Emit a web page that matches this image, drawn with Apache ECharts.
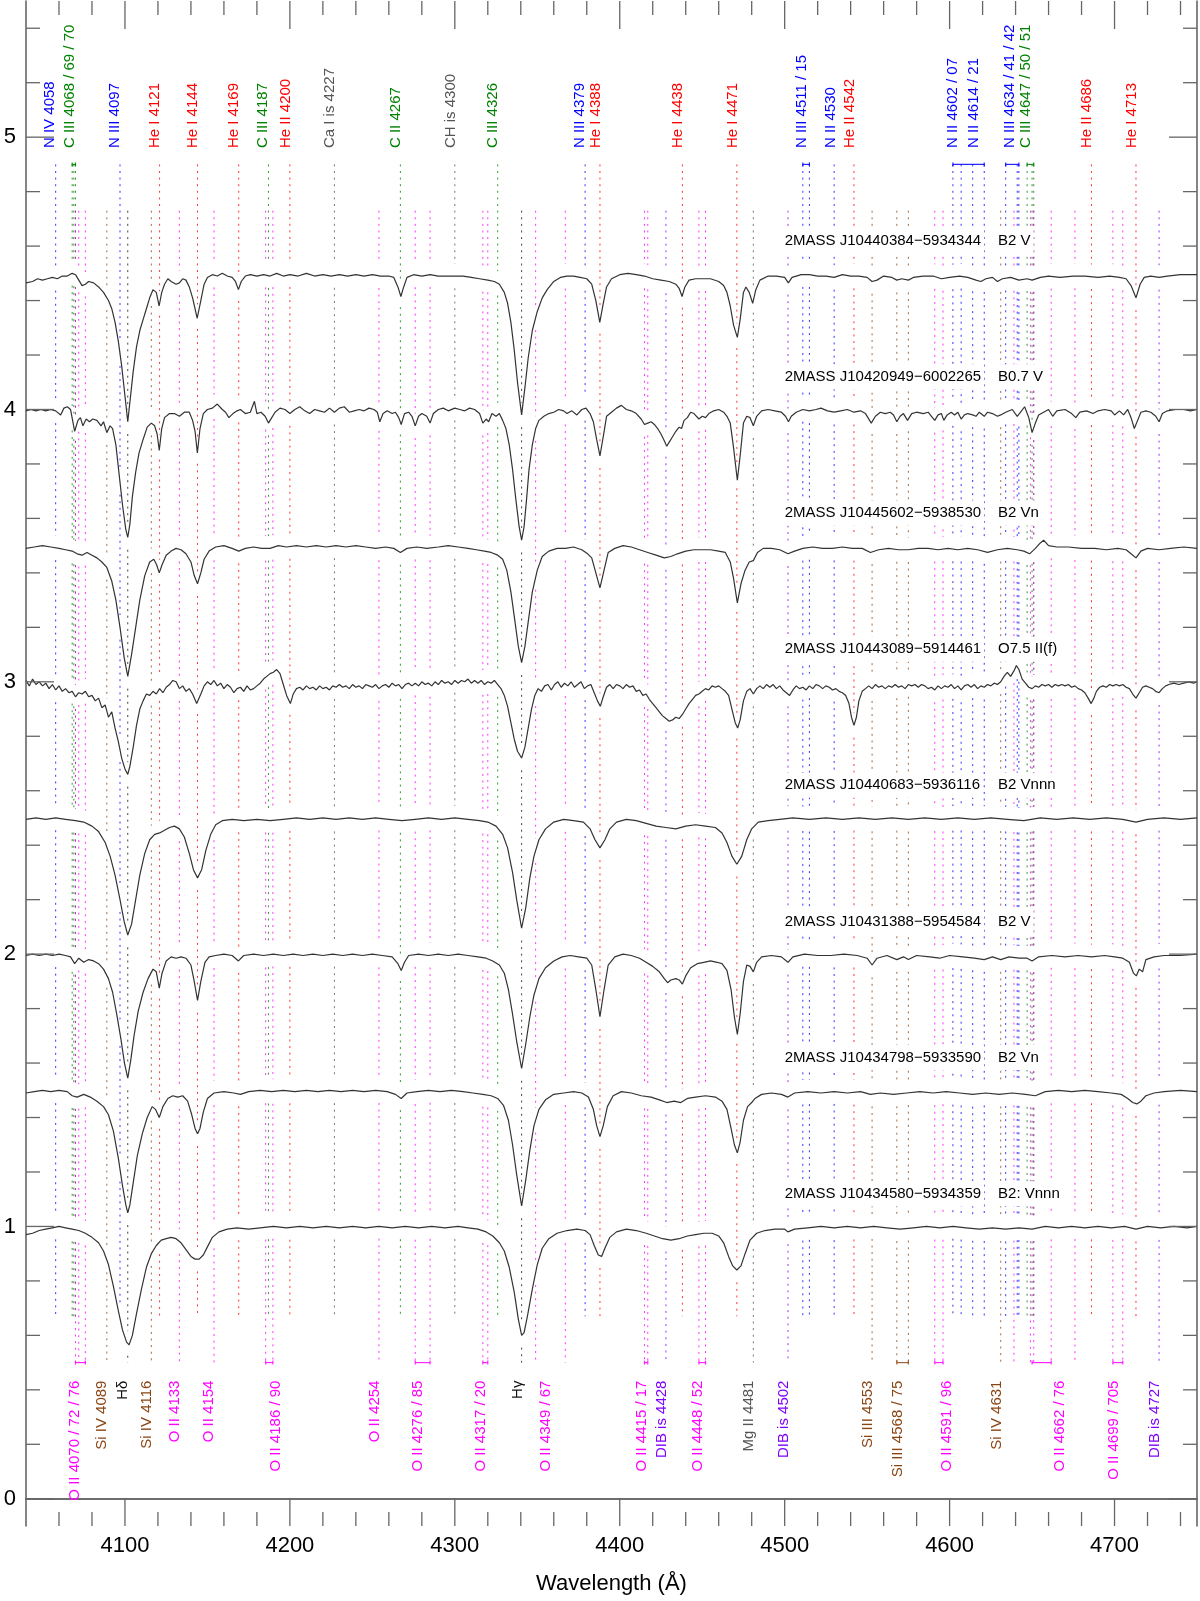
<!DOCTYPE html>
<html>
<head>
<meta charset="utf-8">
<script src="https://cdn.jsdelivr.net/npm/echarts@6/dist/echarts.min.js"></script>
<style>
  html, body { margin: 0; padding: 0; background: #fff; }
  #chart { width: 1200px; height: 1601px; }
</style>
</head>
<body>
<div id="chart"></div>
<script>
const WAVE_MIN = 4040, WAVE_MAX = 4750;
const FLUX_MIN = -0.1, FLUX_MAX = 5.5;

// continuum level of each spectrum, top to bottom
const levels = [4.5, 4.0, 3.5, 3.0, 2.5, 2.0, 1.5, 1.0];
const starNames = [
  '2MASS J10440384\u22125934344', '2MASS J10420949\u22126002265',
  '2MASS J10445602\u22125938530', '2MASS J10443089\u22125914461',
  '2MASS J10440683\u22125936116', '2MASS J10431388\u22125954584',
  '2MASS J10434798\u22125933590', '2MASS J10434580\u22125934359'
];
const spTypes = ['B2 V', 'B0.7 V', 'B2 Vn', 'O7.5 II(f)', 'B2 Vnnn', 'B2 V', 'B2 Vn', 'B2: Vnnn'];

// spectra, [wavelength, offset flux]
const spec1 = [[4040,4.465],[4044,4.47],[4047,4.48],[4050,4.475],[4053,4.48],[4056,4.485],[4059,4.48],[4062,4.49],[4065,4.49],[4068,4.5],[4070,4.495],[4072,4.475],[4074,4.455],[4076,4.46],[4078,4.47],[4081,4.465],[4084,4.45],[4087,4.43],[4090,4.40],[4092,4.37],[4094,4.32],[4096,4.25],[4098,4.16],[4100,4.05],[4101.7,3.955],[4103.4,4.05],[4105,4.14],[4107,4.23],[4109,4.29],[4111,4.33],[4113,4.37],[4115,4.41],[4117,4.44],[4119,4.43],[4120.7,4.38],[4122.3,4.43],[4124,4.46],[4126,4.48],[4128,4.47],[4131,4.46],[4133,4.465],[4135,4.48],[4137,4.475],[4139,4.45],[4141,4.41],[4143.8,4.335],[4146,4.40],[4148,4.46],[4150,4.485],[4153,4.495],[4156,4.49],[4159,4.5],[4162,4.49],[4165,4.485],[4167,4.47],[4168.8,4.44],[4170.5,4.47],[4173,4.49],[4176,4.495],[4180,4.49],[4184,4.495],[4188,4.49],[4192,4.5],[4196,4.49],[4200,4.495],[4205,4.49],[4210,4.5],[4215,4.49],[4220,4.495],[4225,4.49],[4230,4.495],[4235,4.49],[4240,4.495],[4245,4.49],[4250,4.495],[4255,4.49],[4260,4.49],[4263,4.485],[4265.5,4.45],[4267.3,4.415],[4269,4.45],[4271,4.485],[4275,4.495],[4280,4.49],[4285,4.495],[4290,4.49],[4295,4.49],[4300,4.49],[4305,4.49],[4310,4.485],[4315,4.48],[4320,4.475],[4324,4.47],[4327,4.46],[4330,4.43],[4332,4.39],[4334,4.32],[4336,4.22],[4338,4.10],[4340.5,3.98],[4342.5,4.08],[4344.5,4.19],[4347,4.29],[4350,4.36],[4353,4.41],[4356,4.44],[4360,4.47],[4364,4.485],[4368,4.49],[4372,4.49],[4376,4.485],[4380,4.48],[4383,4.46],[4385.5,4.40],[4387.9,4.32],[4390,4.39],[4392,4.45],[4395,4.48],[4400,4.495],[4405,4.5],[4410,4.495],[4415,4.49],[4420,4.48],[4425,4.475],[4430,4.47],[4434,4.46],[4436,4.445],[4437.8,4.415],[4439.5,4.45],[4442,4.475],[4446,4.48],[4450,4.48],[4455,4.48],[4460,4.47],[4463,4.455],[4465,4.43],[4467,4.38],[4469,4.31],[4471.3,4.265],[4473,4.33],[4475,4.43],[4476.5,4.45],[4478.5,4.43],[4480.6,4.39],[4482.5,4.44],[4485,4.475],[4490,4.49],[4495,4.49],[4500,4.485],[4502.2,4.465],[4504.5,4.485],[4510,4.495],[4515,4.495],[4520,4.49],[4525,4.49],[4530,4.485],[4535,4.495],[4540,4.49],[4545,4.49],[4550,4.485],[4553,4.47],[4556,4.475],[4560,4.49],[4565,4.485],[4568,4.475],[4571,4.48],[4575,4.475],[4578,4.485],[4584,4.49],[4590,4.49],[4595,4.48],[4600,4.485],[4606,4.49],[4611,4.485],[4616,4.475],[4619,4.47],[4622,4.48],[4626,4.485],[4629,4.47],[4632,4.48],[4637,4.485],[4642,4.475],[4647,4.48],[4650,4.475],[4655,4.485],[4660,4.49],[4667,4.485],[4675,4.49],[4682,4.49],[4690,4.485],[4697,4.49],[4703,4.485],[4707,4.48],[4710,4.455],[4713,4.41],[4715.5,4.46],[4718,4.485],[4722,4.49],[4727,4.485],[4732,4.49],[4740,4.495],[4750,4.495]];

const spec2 = [[4040,3.995],[4043,4.0],[4046,3.995],[4049,4.0],[4052,3.995],[4055,4.0],[4058,3.995],[4061,3.98],[4063,4.005],[4065,4.01],[4067,4.0],[4069.5,3.92],[4071.5,3.96],[4073,3.97],[4074.5,3.94],[4076.5,3.965],[4078.5,3.955],[4080.5,3.965],[4083,3.96],[4085.5,3.94],[4087,3.955],[4089,3.915],[4091,3.94],[4092.5,3.93],[4094.5,3.87],[4096.5,3.76],[4098.5,3.65],[4100.5,3.56],[4101.7,3.53],[4103,3.58],[4104.5,3.68],[4106.5,3.77],[4108.5,3.84],[4111,3.89],[4113.5,3.935],[4116,3.95],[4118,3.94],[4119.5,3.91],[4120.8,3.85],[4122.3,3.93],[4124,3.97],[4127,3.985],[4130,3.985],[4133,3.975],[4136,3.99],[4139,3.99],[4141,3.96],[4142.5,3.92],[4143.9,3.84],[4145.5,3.93],[4147.5,3.985],[4150,4.0],[4153,4.005],[4156,4.02],[4159,4.0],[4161,3.99],[4163,3.97],[4165.5,3.985],[4168,3.995],[4170,4.0],[4173,3.985],[4176,3.99],[4178.5,4.03],[4180,3.985],[4182.5,3.99],[4185,3.975],[4187,3.95],[4189,3.97],[4191,3.99],[4194,4.005],[4197,4.0],[4200,3.985],[4203,4.0],[4206,4.01],[4209,3.995],[4212,3.985],[4215,4.0],[4218,3.995],[4221,3.99],[4224,4.005],[4227,3.99],[4230,4.005],[4233,4.01],[4236,3.99],[4239,3.995],[4242,4.0],[4245,3.995],[4248,4.005],[4251,4.0],[4253,3.99],[4254.5,3.955],[4256.5,3.985],[4259,3.995],[4262,3.985],[4264,3.99],[4266,3.97],[4267.5,3.945],[4269.5,3.985],[4272,3.99],[4274,3.975],[4276,3.94],[4278,3.975],[4280,3.985],[4283,3.975],[4285,3.95],[4287,3.985],[4290,4.0],[4293,4.005],[4296,3.995],[4300,4.005],[4303,4.0],[4306,3.995],[4309,4.005],[4312,4.0],[4315,3.985],[4317,3.95],[4319,3.965],[4320.5,3.955],[4322.5,3.985],[4325,3.975],[4327,3.985],[4329,3.96],[4331,3.93],[4333,3.87],[4335,3.78],[4337,3.67],[4339,3.57],[4340.5,3.52],[4342,3.57],[4343.5,3.67],[4345,3.78],[4347,3.87],[4349,3.93],[4351,3.96],[4354,3.975],[4357,3.985],[4360,3.99],[4363,4.0],[4366,3.995],[4368,3.985],[4371,3.995],[4374,3.98],[4377,4.0],[4379.5,4.005],[4382,3.985],[4384,3.955],[4386,3.89],[4388,3.83],[4390,3.9],[4392,3.975],[4395,3.99],[4398,4.005],[4401,4.015],[4404,4.0],[4407,3.995],[4410,3.985],[4413,3.965],[4415,3.945],[4417,3.95],[4419,3.955],[4421,3.945],[4423,3.93],[4425,3.91],[4427,3.885],[4428.5,3.865],[4430,3.88],[4432,3.9],[4434,3.92],[4436,3.935],[4437.5,3.93],[4439,3.96],[4441,3.97],[4443,3.99],[4445,3.985],[4448,3.965],[4450,3.975],[4452,3.97],[4454,3.985],[4457,3.995],[4460,4.0],[4463,3.99],[4465,3.975],[4467,3.95],[4469,3.86],[4471.3,3.74],[4473,3.83],[4475,3.95],[4477,3.975],[4479,3.97],[4481,3.94],[4483,3.975],[4486,3.995],[4490,4.0],[4494,3.995],[4498,3.99],[4500.5,3.975],[4502.3,3.955],[4504,3.975],[4507,3.99],[4511,4.0],[4515,3.995],[4519,4.0],[4522,4.005],[4526,3.995],[4530,3.99],[4534,3.995],[4538,4.0],[4542,3.99],[4546,3.995],[4549,3.985],[4552.5,3.95],[4555,3.975],[4558,3.99],[4561,3.985],[4564,3.99],[4566,3.98],[4568,3.955],[4570,3.975],[4572,3.985],[4574.5,3.96],[4577,3.985],[4580,3.99],[4584,3.985],[4587,3.99],[4589,3.975],[4591,3.96],[4593,3.98],[4595,3.985],[4596.5,3.96],[4598.5,3.98],[4601,3.99],[4603,3.98],[4605,3.99],[4607,3.965],[4609,3.98],[4611,3.985],[4614,3.98],[4616,3.975],[4618,3.99],[4621,3.975],[4623,3.99],[4626,3.985],[4629,3.975],[4631,3.98],[4634,3.99],[4638,4.0],[4641,3.975],[4643,3.99],[4645.5,4.01],[4648,3.97],[4650,3.915],[4652,3.95],[4654,3.98],[4657,3.99],[4660,4.0],[4662.5,3.975],[4665,3.995],[4670,4.0],[4674,3.985],[4676.5,3.97],[4679,3.99],[4683,3.995],[4687,3.985],[4690,3.995],[4694,4.0],[4698,3.995],[4700,3.98],[4703,3.995],[4705.5,3.98],[4708,4.0],[4710,3.97],[4712,3.93],[4714,3.96],[4716,3.99],[4719,3.995],[4722,3.99],[4725,3.975],[4727,3.955],[4729,3.985],[4732,3.995],[4737,4.0],[4742,4.0],[4746,3.995],[4750,4.0]];

const spec3 = [[4040,3.49],[4045,3.495],[4050,3.5],[4055,3.495],[4060,3.49],[4064,3.485],[4068,3.48],[4071,3.47],[4074,3.465],[4077,3.475],[4080,3.465],[4083,3.455],[4086,3.44],[4089,3.42],[4092,3.37],[4094.5,3.30],[4097,3.20],[4099.5,3.09],[4101.7,3.02],[4104,3.10],[4106.5,3.2],[4109,3.3],[4112,3.39],[4115,3.44],[4117.5,3.45],[4119.2,3.43],[4120.8,3.40],[4122.5,3.43],[4125,3.465],[4128,3.48],[4131,3.49],[4134,3.485],[4137,3.47],[4140,3.44],[4142,3.39],[4144,3.36],[4146,3.40],[4148,3.45],[4151,3.48],[4155,3.495],[4160,3.5],[4165,3.49],[4169,3.48],[4173,3.49],[4178,3.495],[4183,3.49],[4188,3.49],[4193,3.5],[4198,3.495],[4204,3.5],[4210,3.495],[4216,3.5],[4222,3.495],[4228,3.5],[4234,3.495],[4240,3.5],[4246,3.495],[4252,3.49],[4258,3.495],[4263,3.49],[4267,3.475],[4271,3.49],[4277,3.495],[4283,3.49],[4290,3.495],[4296,3.5],[4302,3.495],[4308,3.49],[4313,3.485],[4318,3.48],[4322,3.475],[4326,3.465],[4329,3.45],[4331.5,3.41],[4334,3.33],[4336.5,3.22],[4338.5,3.13],[4340.5,3.07],[4342.5,3.13],[4344.5,3.22],[4347,3.33],[4350,3.41],[4353,3.46],[4357,3.48],[4362,3.49],[4367,3.49],[4372,3.495],[4377,3.485],[4380.5,3.47],[4383,3.455],[4385.5,3.40],[4388,3.345],[4390.5,3.41],[4393,3.475],[4397,3.49],[4402,3.5],[4407,3.495],[4412,3.485],[4417,3.475],[4422,3.465],[4427,3.455],[4431,3.46],[4435,3.47],[4440,3.48],[4445,3.485],[4450,3.485],[4455,3.485],[4460,3.48],[4464,3.475],[4467,3.44],[4469,3.38],[4471.3,3.29],[4473.5,3.36],[4476,3.41],[4478.5,3.44],[4481,3.445],[4483.5,3.475],[4487,3.49],[4492,3.49],[4497,3.485],[4502,3.47],[4506,3.48],[4511,3.49],[4517,3.495],[4523,3.49],[4529,3.49],[4535,3.495],[4541,3.49],[4547,3.49],[4552,3.475],[4557,3.485],[4563,3.49],[4569,3.485],[4575,3.485],[4581,3.49],[4587,3.49],[4593,3.485],[4599,3.49],[4605,3.485],[4611,3.49],[4617,3.485],[4623,3.475],[4629,3.485],[4635,3.49],[4641,3.485],[4645,3.48],[4648.5,3.47],[4652,3.49],[4655,3.51],[4657,3.52],[4660,3.5],[4665,3.495],[4672,3.495],[4680,3.49],[4688,3.49],[4695,3.485],[4702,3.49],[4707,3.485],[4710,3.47],[4713,3.455],[4716,3.48],[4720,3.49],[4727,3.485],[4734,3.49],[4742,3.495],[4750,3.49]];

const spec4 = [[4040,3.005],[4042,2.985],[4044,3.01],[4046,2.99],[4048,3.0],[4050,2.985],[4052,2.995],[4054,2.975],[4056,2.99],[4058,2.97],[4060,2.985],[4062,2.965],[4064,2.975],[4066,2.96],[4068,2.965],[4070,2.945],[4072,2.96],[4074,2.955],[4076,2.965],[4078,2.945],[4080,2.95],[4082,2.93],[4084,2.94],[4086,2.905],[4088,2.915],[4090,2.87],[4092,2.89],[4094,2.83],[4096,2.78],[4098,2.72],[4100,2.68],[4101.7,2.66],[4103,2.69],[4105,2.76],[4107,2.84],[4109,2.9],[4111,2.93],[4113,2.955],[4115,2.95],[4117,2.965],[4119,2.955],[4121,2.975],[4123,2.96],[4125,2.98],[4127,2.99],[4129,3.005],[4131,3.0],[4133,2.975],[4135,2.985],[4137,2.965],[4139,2.975],[4141,2.955],[4143.5,2.92],[4146,2.955],[4148,2.985],[4150,3.0],[4152,2.99],[4154,3.005],[4156,2.985],[4158,2.995],[4160,2.975],[4162,2.99],[4164,2.98],[4166,2.96],[4168,2.975],[4170,2.98],[4172,2.965],[4174,2.985],[4176,2.97],[4178,2.975],[4180,2.985],[4182,2.995],[4184,3.01],[4186,3.02],[4188,3.03],[4190,3.035],[4192,3.045],[4194,3.03],[4196,2.99],[4198,2.95],[4200.3,2.92],[4202,2.955],[4204,2.975],[4206,2.98],[4208,2.97],[4210,2.985],[4212,2.975],[4214,2.98],[4216,2.97],[4218,2.985],[4220,2.975],[4222,2.98],[4224,2.97],[4226,2.985],[4228,2.98],[4230,2.99],[4232,2.98],[4234,2.985],[4236,2.975],[4238,2.99],[4240,2.98],[4242,2.985],[4244,2.975],[4246,2.99],[4248,2.985],[4250,2.98],[4252,2.99],[4254,2.975],[4256,2.985],[4258,2.99],[4260,2.98],[4262,2.995],[4264,2.985],[4266,2.99],[4268,2.975],[4270,2.99],[4272,2.995],[4274,2.985],[4276,2.995],[4278,2.985],[4280,3.0],[4282,2.99],[4284,2.995],[4286,2.985],[4288,3.0],[4290,2.99],[4292,3.005],[4294,2.995],[4296,3.0],[4298,2.99],[4300,3.005],[4302,2.995],[4304,3.005],[4306,3.0],[4308,3.01],[4310,2.995],[4312,3.005],[4314,2.995],[4316,3.005],[4318,2.99],[4320,3.0],[4322,2.995],[4324,3.005],[4326,2.99],[4328,2.975],[4330,2.95],[4332,2.91],[4334,2.85],[4336,2.79],[4338,2.745],[4340.5,2.72],[4342.5,2.76],[4344.5,2.83],[4346.5,2.9],[4348.5,2.95],[4350.5,2.975],[4352.5,2.965],[4354.5,2.985],[4356.5,2.99],[4358.5,2.97],[4360.5,2.99],[4362.5,3.0],[4364.5,2.98],[4366.5,2.995],[4368.5,2.985],[4370.5,3.0],[4372.5,2.98],[4374.5,2.99],[4376.5,3.0],[4378.5,2.975],[4380.5,2.985],[4382.5,2.99],[4384.5,2.96],[4386.5,2.93],[4388.2,2.91],[4390,2.945],[4392,2.98],[4394,2.99],[4396,2.975],[4398,2.99],[4400,2.985],[4402,2.975],[4404,2.99],[4406,2.98],[4408,2.985],[4410,2.965],[4412,2.97],[4414,2.95],[4416,2.955],[4418,2.935],[4420,2.92],[4422,2.905],[4424,2.89],[4426,2.875],[4428,2.865],[4430,2.855],[4432,2.86],[4434,2.87],[4436,2.865],[4438,2.88],[4440,2.9],[4442,2.92],[4444,2.935],[4446,2.95],[4448,2.955],[4450,2.965],[4452,2.975],[4454,2.97],[4456,2.985],[4458,2.98],[4460,2.985],[4462,2.975],[4464,2.965],[4466,2.95],[4468,2.9],[4470,2.85],[4471.5,2.83],[4473,2.86],[4475,2.93],[4477,2.965],[4479,2.975],[4481,2.955],[4483,2.975],[4485,2.985],[4487,2.975],[4489,2.99],[4491,2.98],[4493,2.99],[4495,2.975],[4497,2.985],[4499,2.97],[4501,2.96],[4503,2.95],[4505,2.97],[4507,2.985],[4509,2.975],[4511,2.98],[4513,2.97],[4515,2.985],[4517,2.975],[4519,2.99],[4521,2.985],[4523,2.975],[4525,2.985],[4527,2.98],[4529,2.97],[4531,2.975],[4533,2.965],[4535,2.96],[4537,2.95],[4539,2.92],[4540.5,2.87],[4542,2.84],[4543.5,2.87],[4545,2.93],[4547,2.965],[4549,2.975],[4551,2.985],[4553,2.975],[4555,2.99],[4557,2.98],[4559,2.985],[4561,2.975],[4563,2.985],[4565,2.98],[4567,2.99],[4569,2.98],[4571,2.985],[4573,2.975],[4575,2.99],[4577,2.985],[4579,2.99],[4581,2.98],[4583,2.99],[4585,2.985],[4587,2.975],[4589,2.98],[4591,2.97],[4593,2.985],[4595,2.975],[4597,2.985],[4599,2.98],[4601,2.99],[4603,2.975],[4605,2.985],[4607,2.97],[4609,2.985],[4611,2.99],[4613,2.98],[4615,2.99],[4617,2.975],[4619,2.985],[4621,2.98],[4623,2.99],[4625,2.985],[4627,2.995],[4629,2.99],[4631,3.0],[4633,3.02],[4635,3.035],[4637,3.02],[4639,3.04],[4640.5,3.06],[4642,3.045],[4644,3.01],[4646,2.995],[4648,2.98],[4650,2.975],[4652,2.985],[4654,2.98],[4656,2.99],[4658,2.985],[4660,2.99],[4662,2.98],[4664,2.99],[4666,2.985],[4668,2.99],[4670,2.985],[4672,2.99],[4674,2.98],[4676,2.985],[4678,2.975],[4680,2.97],[4682,2.96],[4684,2.94],[4685.8,2.92],[4687.5,2.94],[4689,2.965],[4691,2.98],[4693,2.985],[4695,2.98],[4697,2.99],[4699,2.985],[4701,2.99],[4703,2.985],[4705,2.99],[4707,2.98],[4709,2.975],[4711,2.955],[4713,2.94],[4715,2.96],[4717,2.98],[4719,2.985],[4721,2.98],[4723,2.975],[4725,2.965],[4727,2.96],[4729,2.975],[4731,2.985],[4733,2.99],[4736,2.995],[4739,2.99],[4742,2.995],[4745,3.0],[4748,2.995],[4750,3.0]];

const spec5 = [[4040,2.495],[4046,2.5],[4052,2.495],[4058,2.5],[4064,2.495],[4070,2.49],[4075,2.485],[4080,2.47],[4084,2.45],[4088,2.41],[4091,2.36],[4094,2.29],[4097,2.2],[4099.5,2.12],[4101.7,2.07],[4104,2.11],[4106.5,2.2],[4109,2.29],[4112,2.37],[4115,2.42],[4118,2.44],[4121,2.445],[4124,2.455],[4127,2.465],[4130,2.47],[4133,2.46],[4136,2.43],[4139,2.37],[4141.5,2.31],[4144,2.28],[4146.5,2.31],[4149,2.38],[4152,2.44],[4155,2.475],[4159,2.49],[4165,2.495],[4172,2.49],[4180,2.495],[4188,2.49],[4196,2.495],[4204,2.5],[4212,2.495],[4220,2.5],[4228,2.495],[4236,2.5],[4244,2.495],[4252,2.5],[4260,2.495],[4268,2.49],[4276,2.495],[4284,2.5],[4292,2.495],[4300,2.5],[4308,2.495],[4315,2.49],[4320,2.485],[4325,2.47],[4329,2.44],[4332,2.39],[4335,2.3],[4337.5,2.2],[4340.5,2.095],[4343,2.17],[4345.5,2.28],[4348,2.36],[4351,2.42],[4355,2.46],[4360,2.485],[4366,2.495],[4372,2.49],[4378,2.485],[4382,2.46],[4385,2.42],[4388,2.39],[4391,2.42],[4394,2.46],[4398,2.485],[4404,2.495],[4410,2.49],[4416,2.48],[4422,2.47],[4428,2.465],[4434,2.46],[4440,2.47],[4446,2.475],[4452,2.47],[4458,2.465],[4462,2.445],[4465,2.41],[4468,2.36],[4471,2.33],[4474,2.36],[4477,2.42],[4480,2.46],[4484,2.485],[4490,2.49],[4497,2.495],[4505,2.5],[4515,2.495],[4525,2.5],[4535,2.495],[4545,2.5],[4555,2.495],[4565,2.5],[4575,2.495],[4585,2.5],[4595,2.495],[4605,2.5],[4615,2.495],[4625,2.5],[4635,2.495],[4645,2.49],[4655,2.5],[4665,2.495],[4675,2.5],[4685,2.495],[4695,2.5],[4705,2.495],[4713,2.485],[4720,2.495],[4730,2.5],[4740,2.495],[4750,2.5]];

const spec6 = [[4040,1.995],[4044,2.0],[4048,1.995],[4052,2.0],[4056,1.995],[4060,2.0],[4064,1.995],[4067,1.99],[4069.5,1.965],[4072,1.985],[4075,1.97],[4078,1.98],[4081,1.975],[4084,1.965],[4087,1.945],[4090,1.91],[4092.5,1.86],[4095,1.78],[4097.5,1.69],[4099.7,1.6],[4101.7,1.545],[4103.5,1.61],[4105.5,1.7],[4108,1.79],[4111,1.86],[4114,1.91],[4117,1.945],[4119,1.935],[4120.8,1.875],[4122.5,1.93],[4125,1.975],[4128,1.99],[4131,1.985],[4134,1.99],[4137,1.985],[4140,1.96],[4142,1.9],[4144,1.83],[4146,1.9],[4148.5,1.97],[4151,1.99],[4155,1.995],[4160,2.0],[4165,1.995],[4168.8,1.975],[4172,1.995],[4178,2.0],[4184,1.995],[4190,2.0],[4196,1.995],[4202,2.0],[4208,1.995],[4214,2.0],[4220,1.995],[4226,2.0],[4232,1.995],[4238,2.0],[4244,1.995],[4250,2.0],[4256,1.995],[4262,1.99],[4265.5,1.965],[4267.5,1.94],[4269.5,1.97],[4272,1.995],[4278,2.0],[4284,1.995],[4290,2.0],[4296,1.995],[4302,2.0],[4308,1.995],[4314,1.99],[4319,1.985],[4323,1.975],[4327,1.96],[4330,1.93],[4332.5,1.87],[4335,1.78],[4337.5,1.68],[4340.5,1.58],[4343,1.67],[4345.5,1.77],[4348,1.85],[4351,1.91],[4355,1.95],[4360,1.975],[4365,1.99],[4370,1.995],[4375,1.99],[4380,1.985],[4383,1.96],[4385.5,1.87],[4388,1.77],[4390.5,1.87],[4393,1.96],[4397,1.99],[4402,2.0],[4407,1.995],[4412,1.985],[4416,1.97],[4420,1.955],[4424,1.935],[4427,1.91],[4429,1.895],[4431,1.905],[4434,1.91],[4436,1.905],[4438,1.89],[4440,1.92],[4443,1.95],[4447,1.965],[4451,1.97],[4455,1.975],[4459,1.97],[4462,1.965],[4465,1.94],[4467.5,1.87],[4469.5,1.77],[4471.3,1.705],[4473,1.78],[4475,1.9],[4477,1.96],[4479,1.955],[4481,1.935],[4483,1.97],[4486,1.99],[4492,1.995],[4498,1.99],[4502,1.97],[4505,1.99],[4512,2.0],[4520,1.995],[4528,1.995],[4536,2.0],[4544,1.995],[4550,1.985],[4553,1.96],[4556,1.985],[4562,1.995],[4568,1.98],[4572,1.99],[4575,1.98],[4580,1.995],[4588,1.99],[4594,1.985],[4600,1.995],[4608,1.99],[4615,1.985],[4621,1.98],[4626,1.99],[4631,1.98],[4636,1.99],[4642,1.985],[4647,1.985],[4650,1.975],[4654,1.99],[4662,1.995],[4670,1.99],[4678,1.995],[4686,1.99],[4694,1.995],[4700,1.99],[4705,1.985],[4709,1.97],[4711.5,1.93],[4713.2,1.92],[4715,1.945],[4717,1.935],[4719,1.98],[4724,1.99],[4730,1.995],[4740,1.995],[4750,2.0]];

const spec7 = [[4040,1.49],[4045,1.495],[4050,1.5],[4055,1.495],[4060,1.5],[4065,1.495],[4068,1.48],[4071,1.475],[4075,1.485],[4079,1.475],[4083,1.46],[4087,1.44],[4090,1.41],[4093,1.35],[4096,1.25],[4098.5,1.15],[4100.5,1.08],[4101.7,1.05],[4103,1.08],[4105,1.16],[4107.5,1.26],[4110.5,1.34],[4113.5,1.4],[4116.5,1.44],[4118.5,1.43],[4120.8,1.4],[4123,1.44],[4126,1.47],[4129,1.48],[4132,1.475],[4135,1.48],[4138,1.46],[4140.5,1.41],[4142.5,1.36],[4144,1.34],[4145.5,1.36],[4147.5,1.42],[4150,1.47],[4154,1.49],[4160,1.495],[4166,1.49],[4170,1.485],[4175,1.495],[4182,1.5],[4189,1.495],[4196,1.5],[4203,1.495],[4210,1.5],[4217,1.495],[4224,1.5],[4231,1.495],[4238,1.5],[4245,1.495],[4252,1.5],[4259,1.495],[4264,1.485],[4267.5,1.47],[4271,1.49],[4277,1.495],[4284,1.5],[4291,1.495],[4298,1.5],[4305,1.495],[4311,1.49],[4317,1.485],[4322,1.48],[4326,1.47],[4329.5,1.445],[4332.5,1.39],[4335,1.3],[4337.5,1.19],[4340.5,1.075],[4343,1.17],[4345.5,1.28],[4348,1.37],[4351,1.43],[4355,1.465],[4360,1.485],[4366,1.49],[4372,1.495],[4377,1.49],[4381,1.475],[4384,1.43],[4386,1.37],[4388,1.33],[4390,1.37],[4392.5,1.44],[4396,1.48],[4401,1.495],[4407,1.49],[4413,1.48],[4419,1.475],[4424,1.465],[4428.5,1.455],[4433,1.46],[4437,1.455],[4441,1.47],[4446,1.475],[4452,1.48],[4458,1.475],[4462,1.46],[4465,1.43],[4467.5,1.36],[4469.5,1.3],[4471.3,1.27],[4473,1.31],[4475,1.39],[4477.5,1.44],[4480,1.455],[4482,1.47],[4486,1.485],[4492,1.49],[4498,1.485],[4502,1.475],[4506,1.49],[4514,1.495],[4522,1.49],[4530,1.495],[4538,1.49],[4546,1.495],[4552,1.485],[4558,1.49],[4566,1.485],[4574,1.49],[4582,1.495],[4590,1.49],[4598,1.495],[4606,1.49],[4614,1.485],[4622,1.49],[4630,1.485],[4638,1.49],[4646,1.485],[4652,1.48],[4658,1.495],[4666,1.5],[4674,1.495],[4682,1.5],[4690,1.495],[4698,1.49],[4704,1.485],[4708,1.47],[4711,1.455],[4713.5,1.45],[4716,1.46],[4719,1.48],[4724,1.49],[4730,1.495],[4740,1.5],[4750,1.495]];

const spec8 = [[4040,0.97],[4044,0.975],[4048,0.985],[4052,0.99],[4056,0.995],[4060,1.0],[4064,0.995],[4068,0.99],[4072,0.985],[4076,0.975],[4080,0.96],[4084,0.94],[4087,0.91],[4090,0.86],[4093,0.78],[4096,0.69],[4098.5,0.62],[4101,0.575],[4102.5,0.565],[4104.5,0.6],[4107,0.68],[4110,0.77],[4113,0.85],[4116,0.9],[4119,0.93],[4122,0.95],[4125,0.955],[4128,0.96],[4131,0.955],[4134,0.94],[4137,0.915],[4140,0.89],[4142.5,0.88],[4145,0.88],[4147.5,0.895],[4150,0.925],[4153,0.96],[4157,0.98],[4162,0.99],[4168,0.995],[4175,0.99],[4182,0.995],[4190,1.0],[4198,0.995],[4206,1.0],[4214,0.995],[4222,1.0],[4230,0.995],[4238,1.0],[4246,0.995],[4254,1.0],[4262,0.995],[4270,1.0],[4278,0.995],[4286,1.0],[4294,0.995],[4302,1.0],[4308,0.995],[4314,0.99],[4319,0.98],[4323,0.965],[4327,0.94],[4330,0.91],[4333,0.85],[4336,0.76],[4338.5,0.66],[4340.5,0.6],[4342,0.61],[4344,0.67],[4347,0.77],[4350,0.86],[4353,0.92],[4357,0.955],[4362,0.975],[4368,0.985],[4374,0.99],[4379,0.985],[4382,0.97],[4384.5,0.93],[4387,0.895],[4389,0.89],[4391,0.92],[4394,0.96],[4398,0.98],[4404,0.99],[4410,0.985],[4416,0.975],[4421,0.965],[4426,0.955],[4431,0.95],[4436,0.955],[4441,0.965],[4446,0.97],[4451,0.975],[4456,0.975],[4460,0.965],[4463,0.94],[4466,0.89],[4468.5,0.855],[4471,0.84],[4473.5,0.855],[4476,0.9],[4479,0.95],[4483,0.975],[4488,0.985],[4494,0.99],[4500,0.99],[4502,0.98],[4506,0.99],[4514,0.995],[4522,1.0],[4530,0.995],[4538,1.0],[4546,0.995],[4554,1.0],[4562,0.995],[4570,0.99],[4578,0.995],[4586,1.0],[4594,0.995],[4602,1.0],[4610,0.995],[4618,0.99],[4626,0.995],[4634,0.99],[4642,0.995],[4650,0.99],[4658,1.0],[4666,0.995],[4674,1.0],[4682,0.995],[4690,1.0],[4698,0.995],[4706,1.0],[4713,0.99],[4720,1.0],[4728,0.995],[4736,1.0],[4744,0.995],[4750,1.0]];

const spectra = [spec1, spec2, spec3, spec4, spec5, spec6, spec7, spec8];

// identified lines: [wavelength, colour]
const upperLines = [
  [4058,'blue'],[4068,'green'],[4069,'green'],[4070,'green'],[4097,'blue'],[4121,'red'],[4144,'red'],
  [4169,'red'],[4187,'green'],[4200,'red'],[4227,'gray'],[4267,'green'],[4300,'gray'],[4326,'green'],
  [4379,'blue'],[4388,'red'],[4438,'red'],[4471,'red'],[4511,'blue'],[4515,'blue'],[4530,'blue'],
  [4542,'red'],[4602,'blue'],[4607,'blue'],[4614,'blue'],[4621,'blue'],[4634,'blue'],[4641,'blue'],
  [4642,'blue'],[4647,'green'],[4650,'green'],[4651,'green'],[4686,'red'],[4713,'red']
];
const lowerLines = [
  [4070,'magenta'],[4072,'magenta'],[4076,'magenta'],[4089,'brown'],[4101.7,'black'],[4116,'brown'],
  [4133,'magenta'],[4154,'magenta'],[4185.3,'magenta'],[4189.7,'magenta'],[4254,'magenta'],
  [4276,'magenta'],[4285,'magenta'],[4317,'magenta'],[4320,'magenta'],[4340.5,'black'],
  [4349,'magenta'],[4367,'magenta'],[4415,'magenta'],[4417,'magenta'],[4428,'violet'],
  [4448,'magenta'],[4452,'magenta'],[4481,'gray'],[4502,'violet'],[4553,'brown'],[4568,'brown'],
  [4575,'brown'],[4591,'magenta'],[4596,'magenta'],[4631,'brown'],[4639,'magenta'],[4649,'magenta'],
  [4651,'magenta'],[4661.6,'magenta'],[4676,'magenta'],[4699,'magenta'],[4705,'magenta'],[4727,'violet']
];
const upperBrackets = [[4068,4070,'green'],[4511,4515,'blue'],[4602,4621,'blue'],[4634,4642,'blue'],[4647,4651,'green']];
const lowerBrackets = [[4070,4076,'magenta'],[4185.3,4189.7,'magenta'],[4276,4285,'magenta'],[4317,4320,'magenta'],
  [4415,4417,'magenta'],[4448,4452,'magenta'],[4568,4575,'brown'],[4591,4596,'magenta'],[4650,4661.6,'magenta'],[4699,4705,'magenta']];

// labels: [text, wavelength of the label, colour]
const upperLabels = [
  ['N IV 4058',4057.6,'blue'],['C III 4068 / 69 / 70',4069.7,'green'],['N III 4097',4097,'blue'],
  ['He I 4121',4121.2,'red'],['He I 4144',4144.4,'red'],['He I 4169',4169.1,'red'],['C III 4187',4186.8,'green'],
  ['He II 4200',4200.3,'red'],['Ca I is 4227',4227.1,'gray'],['C II 4267',4267.4,'green'],['CH is 4300',4300.7,'gray'],
  ['C III 4326',4326.4,'green'],['N III 4379',4379,'blue'],['He I 4388',4388.4,'red'],['He I 4438',4438.3,'red'],
  ['He I 4471',4471.7,'red'],['N III 4511 / 15',4513.2,'blue'],['N II 4530',4530.9,'blue'],['He II 4542',4542.3,'red'],
  ['N II 4602 / 07',4604.8,'blue'],['N II 4614 / 21',4617.7,'blue'],['N III 4634 / 41 / 42',4639.8,'blue'],
  ['C III 4647 / 50 / 51',4649.5,'green'],['He II 4686',4686.3,'red'],['He I 4713',4713.5,'red']
];
const lowerLabels = [
  ['O II 4070 / 72 / 76',4072.8,'magenta'],['Si IV 4089',4089.2,'brown'],['H\u03b4',4102,'black'],
  ['Si IV 4116',4116.1,'brown'],['O II 4133',4133.2,'magenta'],['O II 4154',4153.8,'magenta'],
  ['O II 4186 / 90',4194.8,'magenta'],['O II 4254',4254.3,'magenta'],['O II 4276 / 85',4280.9,'magenta'],
  ['O II 4317 / 20',4318.8,'magenta'],['H\u03b3',4341,'black'],['O II 4349 / 67',4358.1,'magenta'],
  ['O II 4415 / 17',4416.6,'magenta'],['DIB is 4428',4428.3,'violet'],['O II 4448 / 52',4450.3,'magenta'],
  ['Mg II 4481',4481.2,'gray'],['DIB is 4502',4502.3,'violet'],['Si III 4553',4553.2,'brown'],
  ['Si III 4568 / 75',4571.9,'brown'],['O II 4591 / 96',4601.6,'magenta'],['Si IV 4631',4631.4,'brown'],
  ['O II 4662 / 76',4669.7,'magenta'],['O II 4699 / 705',4702.4,'magenta'],['DIB is 4727',4727.2,'violet']
];

const xMajorTicks = [4100, 4200, 4300, 4400, 4500, 4600, 4700];
const yMajorTicks = [0, 1, 2, 3, 4, 5];

const colors = {
  blue: '#0000ff', red: '#ff0000', green: '#008000', gray: '#555555', black: '#111111',
  magenta: '#ff00ff', brown: '#8b4513', violet: '#7f00ff'
};
const FONT = '"Liberation Sans", Arial, Helvetica, sans-serif';
const GAP = 0.045;

function fluxAt(spec, lam) {
  if (lam <= spec[0][0]) return spec[0][1];
  for (let i = 1; i < spec.length; i++) {
    if (spec[i][0] >= lam) {
      const a = spec[i - 1], b = spec[i];
      return a[1] + (b[1] - a[1]) * (lam - a[0]) / (b[0] - a[0]);
    }
  }
  return spec[spec.length - 1][1];
}

// pieces of a marker line between the spectra
function segmentsFor(lam, vTop, vBot) {
  const fl = spectra.map(s => fluxAt(s, lam)).sort((a, b) => b - a);
  const segs = [];
  let cur = vTop;
  for (const f of fl) {
    const hi = f + GAP, lo = f - GAP;
    if (hi >= cur) { cur = Math.min(cur, lo); continue; }
    if (hi <= vBot) break;
    segs.push([cur, hi]);
    cur = lo;
  }
  if (cur > vBot) segs.push([cur, vBot]);
  return segs;
}

const markers = upperLines.map(l => [l[0], l[1], 'u']).concat(lowerLines.map(l => [l[0], l[1], 'l']));
const brackets = upperBrackets.map(b => [b[0], b[1], b[2], 'u']).concat(lowerBrackets.map(b => [b[0], b[1], b[2], 'l']));
const labels = upperLabels.map(l => [l[0], l[1], l[2], 'u']).concat(lowerLabels.map(l => [l[0], l[1], l[2], 'l']));

const xMinor = [], yMinor = [];
for (let v = 4060; v < WAVE_MAX; v += 20) if (v % 100 !== 0) xMinor.push(v);
for (let k = 1; k <= 27; k++) if (k % 5 !== 0) yMinor.push(+(k * 0.2).toFixed(1));
const ticks = xMajorTicks.map(v => [v, 'x', 28]).concat(xMinor.map(v => [v, 'x', 14]))
  .concat(yMajorTicks.map(v => [v, 'y', 28])).concat(yMinor.map(v => [v, 'y', 14]));

const chart = echarts.init(document.getElementById('chart'), null, { renderer: 'canvas', width: 1200, height: 1601 });

const frame = { show: true, lineStyle: { color: '#666', width: 1.6 } };
const series = [];

series.push({
  type: 'custom', coordinateSystem: 'cartesian2d', z: 1, silent: true,
  data: markers.map(m => [m[0], 1]),
  renderItem: function (params, api) {
    const m = markers[params.dataIndex];
    const top = m[2] === 'u' ? 4.90 : 4.73, bot = m[2] === 'u' ? 0.67 : 0.50;
    const children = segmentsFor(m[0], top, bot).map(s => {
      const p1 = api.coord([m[0], s[0]]), p2 = api.coord([m[0], s[1]]);
      return { type: 'line', shape: { x1: p1[0], y1: p1[1], x2: p2[0], y2: p2[1] },
        style: { stroke: colors[m[1]], lineWidth: 1, lineDash: [2, 4.6], opacity: 0.8 } };
    });
    return { type: 'group', children: children };
  }
});

series.push({
  type: 'custom', coordinateSystem: 'cartesian2d', z: 1, silent: true,
  data: brackets.map(b => [b[0], 1]),
  renderItem: function (params, api) {
    const b = brackets[params.dataIndex];
    const v = b[3] === 'u' ? 4.90 : 0.50;
    const p1 = api.coord([b[0], v]), p2 = api.coord([b[1], v]);
    const st = { stroke: colors[b[2]], lineWidth: 1.2, opacity: 0.85 };
    return { type: 'group', children: [
      { type: 'line', shape: { x1: p1[0], y1: p1[1], x2: p2[0], y2: p2[1] }, style: st },
      { type: 'line', shape: { x1: p1[0], y1: p1[1] - 2, x2: p1[0], y2: p1[1] + 2 }, style: st },
      { type: 'line', shape: { x1: p2[0], y1: p2[1] - 2, x2: p2[0], y2: p2[1] + 2 }, style: st }
    ] };
  }
});

series.push({
  type: 'custom', coordinateSystem: 'cartesian2d', z: 2, silent: true,
  data: labels.map(l => [l[1], 1]),
  renderItem: function (params, api) {
    const l = labels[params.dataIndex];
    const up = l[3] === 'u';
    const p = api.coord([l[1], up ? 4.96 : 0.434]);
    return { type: 'text', x: p[0] + 2.5, y: p[1], rotation: Math.PI / 2,
      style: { text: l[0], fill: colors[l[2]], font: '15px ' + FONT,
        align: up ? 'left' : 'right', verticalAlign: 'bottom' } };
  }
});

series.push({
  type: 'custom', coordinateSystem: 'cartesian2d', z: 3, silent: true,
  data: levels.map(v => [4500, v]),
  renderItem: function (params, api) {
    const i = params.dataIndex;
    const pName = api.coord([4500, levels[i] + 0.12]);
    const pType = api.coord([4629.4, levels[i] + 0.12]);
    const st = { fill: '#000', font: '15px ' + FONT, align: 'left', verticalAlign: 'middle',
      backgroundColor: '#fff', padding: [6, 3, 4, 3] };
    return { type: 'group', children: [
      { type: 'text', x: pName[0] - 3, y: pName[1], style: Object.assign({ text: starNames[i] }, st) },
      { type: 'text', x: pType[0] - 3, y: pType[1], style: Object.assign({ text: spTypes[i] }, st) }
    ] };
  }
});

spectra.forEach((s, i) => {
  series.push({
    name: starNames[i], type: 'line', data: s, showSymbol: false, symbol: 'none',
    lineStyle: { color: '#333', width: 1.2 }, z: 5, silent: true, animation: false
  });
});

series.push({
  type: 'custom', coordinateSystem: 'cartesian2d', z: 6, silent: true,
  data: ticks.map(t => t[1] === 'x' ? [t[0], 1] : [WAVE_MIN + 1, t[0]]),
  renderItem: function (params, api) {
    const t = ticks[params.dataIndex];
    const cs = params.coordSys;
    const st = { stroke: '#666', lineWidth: 1.3 };
    if (t[1] === 'x') {
      const x = api.coord([t[0], 0])[0];
      const yb = cs.y + cs.height, yt = cs.y;
      return { type: 'group', children: [
        { type: 'line', shape: { x1: x, y1: yb, x2: x, y2: yb - t[2] }, style: st },
        { type: 'line', shape: { x1: x, y1: yt, x2: x, y2: yt + t[2] }, style: st }
      ] };
    }
    const y = api.coord([WAVE_MIN, t[0]])[1];
    const xl = cs.x, xr = cs.x + cs.width;
    return { type: 'group', children: [
      { type: 'line', shape: { x1: xl, y1: y, x2: xl + t[2], y2: y }, style: st },
      { type: 'line', shape: { x1: xr, y1: y, x2: xr - t[2], y2: y }, style: st }
    ] };
  }
});

chart.setOption({
  animation: false,
  backgroundColor: '#fff',
  grid: { left: 26, right: 1, top: 1, bottom: 75, containLabel: false },
  xAxis: [
    { type: 'value', min: WAVE_MIN, max: WAVE_MAX, interval: 20, position: 'bottom',
      name: 'Wavelength (\u00c5)', nameLocation: 'middle', nameGap: 47,
      nameTextStyle: { fontSize: 22, color: '#000', fontFamily: FONT },
      axisLine: frame, axisTick: { show: false }, splitLine: { show: false },
      axisLabel: { fontSize: 22, color: '#000', fontFamily: FONT, margin: 9,
        formatter: v => (v % 100 === 0 ? String(v) : '') } },
    { type: 'value', min: WAVE_MIN, max: WAVE_MAX, position: 'top',
      axisLine: frame, axisTick: { show: false }, axisLabel: { show: false }, splitLine: { show: false } }
  ],
  yAxis: [
    { type: 'value', min: FLUX_MIN, max: FLUX_MAX, splitNumber: 6, position: 'left',
      axisLine: frame, axisTick: { show: false }, splitLine: { show: false },
      axisLabel: { fontSize: 22, color: '#000', fontFamily: FONT, margin: 10,
        formatter: v => (Math.abs(v - Math.round(v)) < 1e-6 ? String(Math.round(v)) : '') } },
    { type: 'value', min: FLUX_MIN, max: FLUX_MAX, position: 'right',
      axisLine: frame, axisTick: { show: false }, axisLabel: { show: false }, splitLine: { show: false } }
  ],
  series: series
});
</script>
</body>
</html>
